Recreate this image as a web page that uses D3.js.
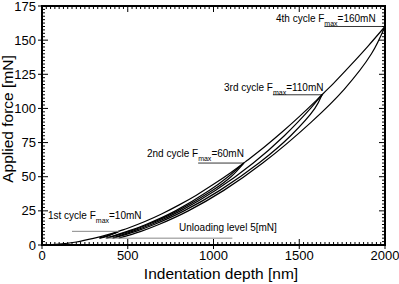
<!DOCTYPE html>
<html>
<head>
<meta charset="utf-8">
<script src="https://cdn.jsdelivr.net/npm/d3@7"></script>
<style>
  body { margin: 0; background: #fff; }
  svg { display: block; }
  text { font-family: "Liberation Sans", Arial, Helvetica, sans-serif; fill: #000; }
</style>
</head>
<body>
<svg id="chart" width="399" height="284"></svg>
<script>
// ---- data: [depth nm, force mN] ----
const depthTicks = [0, 500, 1000, 1500, 2000];
const forceTicks = [0, 25, 50, 75, 100, 125, 150, 175];

const loading1   = [[0,0],[100,0.6],[200,2.2],[300,4.8],[400,8.1],[447,10]];
const unloading1 = [[447,10],[414,8],[380,6.3],[335,5]];
const reloading2 = [[335,5],[390,7.2],[447,10],[500,12.3],[600,17.2],[700,22.9],[800,29.4],[900,36.5],[1000,44.4],[1100,52.9],[1177,60]];
const unloading2 = [[1177,60],[1102,50],[995,40],[791,25],[618,15],[510,10],[375,5]];
const reloading3 = [[375,5],[497,10],[606,15],[778,25],[977,40],[1085,50],[1177,60],[1200,62.2],[1300,72.1],[1400,82.7],[1500,94.0],[1600,105.9],[1633,110]];
const unloading3 = [[1633,110],[1591,100],[1450,80],[1265,60],[1037,40],[828,25],[654,15],[547,10],[412,5]];
const reloading4 = [[412,5],[527,10],[636,15],[808,25],[1013,40],[1232,60],[1413,80],[1566,100],[1633,110],[1700,118.4],[1800,131.7],[1900,145.5],[2000,160]];
const unloading4 = [[2000,160],[1921,140],[1762,114],[1570,90],[1287,60],[1060,40],[853,25],[681,15],[577,10],[447,5]];

const cycleNames = ["1st cycle F", "2nd cycle F", "3rd cycle F", "4th cycle F"];
const cycleMax   = [10, 60, 110, 160];
const cycleUnits = ["=10mN", "=60mN", "=110mN", "=160mN"];
const cyclePeakDepth = [447, 1177, 1633, 2000];
const unloadLevel = 5;

// ---- layout ----
const svg = d3.select("#chart");
const m = {left: 42, right: 385, top: 6, bottom: 245};
const x = d3.scaleLinear().domain([0, 2000]).range([m.left, m.right]);
const y = d3.scaleLinear().domain([0, 175]).range([m.bottom, m.top]);

// curves
const line = d3.line().x(d => x(d[0])).y(d => y(d[1])).curve(d3.curveCatmullRom.alpha(0.5));
const curves = [loading1, unloading1, reloading2, unloading2, reloading3, unloading3, reloading4, unloading4];
svg.append("g").selectAll("path").data(curves).join("path")
  .attr("d", line).attr("fill", "none").attr("stroke", "#000").attr("stroke-width", 1.2);

// ticks (minor + major) on all four sides
const g = svg.append("g").attr("stroke", "#000");
const minorX = d3.range(0, 2001, 25);
const minorY = d3.range(0, 175.01, 2.5);
minorX.forEach(v => {
  const major = v % 500 === 0;
  const L = major ? 6 : 3;
  g.append("line").attr("x1", x(v)).attr("x2", x(v)).attr("y1", m.bottom).attr("y2", m.bottom - L).attr("stroke-width", 1);
  g.append("line").attr("x1", x(v)).attr("x2", x(v)).attr("y1", m.top).attr("y2", m.top + L).attr("stroke-width", 1);
  if (major) g.append("line").attr("x1", x(v)).attr("x2", x(v)).attr("y1", m.bottom).attr("y2", m.bottom + 4).attr("stroke-width", 1);
});
minorY.forEach(v => {
  const major = Math.abs(v % 25) < 1e-6;
  const L = major ? 6 : 3;
  g.append("line").attr("y1", y(v)).attr("y2", y(v)).attr("x1", m.left).attr("x2", m.left + L).attr("stroke-width", 1);
  g.append("line").attr("y1", y(v)).attr("y2", y(v)).attr("x1", m.right).attr("x2", m.right - L).attr("stroke-width", 1);
  if (major) g.append("line").attr("y1", y(v)).attr("y2", y(v)).attr("x1", m.left).attr("x2", m.left - 4).attr("stroke-width", 1);
});

// frame
svg.append("rect").attr("x", m.left).attr("y", m.top).attr("width", m.right - m.left).attr("height", m.bottom - m.top)
  .attr("fill", "none").attr("stroke", "#000").attr("stroke-width", 2);

// tick labels
svg.append("g").selectAll("text").data(depthTicks).join("text")
  .attr("x", d => x(d)).attr("y", 260).attr("text-anchor", "middle").attr("font-size", 13).text(d => d);
svg.append("g").selectAll("text").data(forceTicks).join("text")
  .attr("x", 36).attr("y", d => y(d) + 4.6).attr("text-anchor", "end").attr("font-size", 13).text(d => d);

// axis titles
svg.append("text").attr("x", 221).attr("y", 279).attr("text-anchor", "middle")
  .attr("font-size", 15.5).text("Indentation depth [nm]");
svg.append("text").attr("transform", "translate(13,119) rotate(-90)")
  .attr("text-anchor", "middle").attr("font-size", 15.5).text("Applied force [mN]");

// annotations
const textPos = [[48, 219], [147, 157], [224, 91], [276, 22]];
cycleNames.forEach((name, i) => {
  const t = svg.append("text").attr("x", textPos[i][0]).attr("y", textPos[i][1]).attr("font-size", 10);
  const t1 = t.append("tspan").text(name);
  t.append("tspan").attr("font-size", 7).attr("dy", 4).text("max");
  t.append("tspan").attr("dy", -4).text(cycleUnits[i]);
  if (i > 0) {
    const startX = textPos[i][0] + t1.node().getComputedTextLength();
    svg.append("line").attr("x1", startX).attr("x2", x(cyclePeakDepth[i]))
      .attr("y1", y(cycleMax[i])).attr("y2", y(cycleMax[i])).attr("stroke", "#000").attr("stroke-width", 0.8);
  }
});
// 1st cycle marker and unloading level line (gray)
svg.append("line").attr("x1", x(175)).attr("x2", x(cyclePeakDepth[0])).attr("y1", y(cycleMax[0])).attr("y2", y(cycleMax[0]))
  .attr("stroke", "#888").attr("stroke-width", 1);
svg.append("line").attr("x1", x(370)).attr("x2", x(1110)).attr("y1", y(unloadLevel)).attr("y2", y(unloadLevel))
  .attr("stroke", "#888").attr("stroke-width", 1);
svg.append("text").attr("x", 179).attr("y", 231).attr("font-size", 10).text("Unloading level 5[mN]");
</script>
</body>
</html>
